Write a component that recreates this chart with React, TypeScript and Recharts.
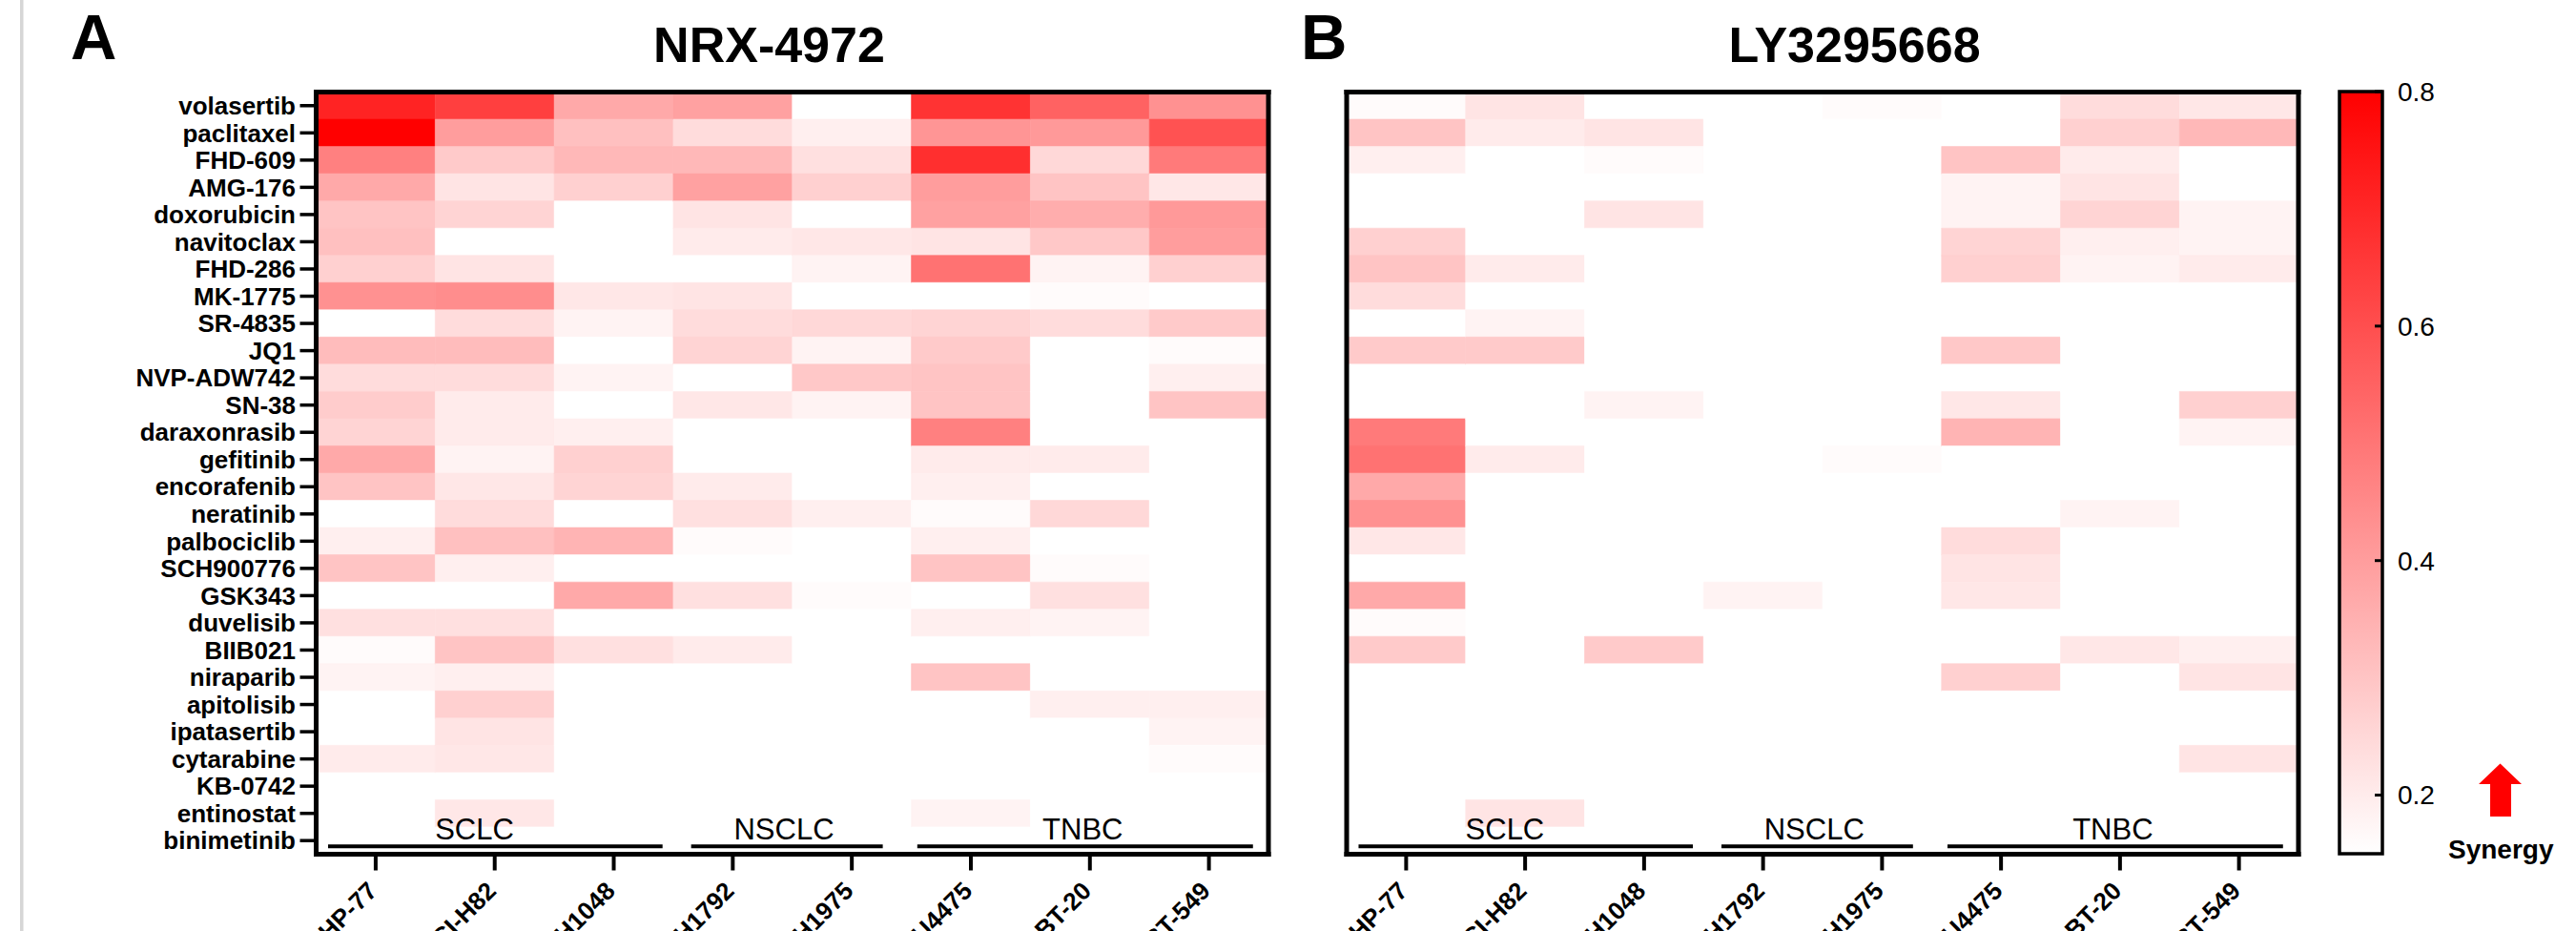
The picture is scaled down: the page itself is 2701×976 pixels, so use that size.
import React from "react";
import { BarChart, Bar, Cell, XAxis, YAxis, ReferenceLine } from "recharts";

const DRUGS = [
  "volasertib", "paclitaxel", "FHD-609", "AMG-176", "doxorubicin", "navitoclax",
  "FHD-286", "MK-1775", "SR-4835", "JQ1", "NVP-ADW742", "SN-38", "daraxonrasib",
  "gefitinib", "encorafenib", "neratinib", "palbociclib", "SCH900776", "GSK343",
  "duvelisib", "BIIB021", "niraparib", "apitolisib", "ipatasertib", "cytarabine",
  "KB-0742", "entinostat", "binimetinib"
];

const CELL_LINES = [
  "SHP-77", "NCI-H82", "NCI-H1048", "NCI-H1792", "NCI-H1975", "DU4475", "BT-20", "BT-549"
];

// synergy score per drug (rows) x cell line (columns); 0 = no synergy (white)
const NRX_4972: number[][] = [
  [0.71, 0.64, 0.37, 0.39, 0, 0.67, 0.55, 0.43],
  [0.8, 0.4, 0.31, 0.24, 0.19, 0.42, 0.41, 0.59],
  [0.475, 0.285, 0.33, 0.33, 0.23, 0.68, 0.25, 0.49],
  [0.37, 0.22, 0.27, 0.39, 0.27, 0.4, 0.3, 0.21],
  [0.3, 0.26, 0, 0.22, 0, 0.39, 0.36, 0.41],
  [0.31, 0, 0, 0.2, 0.21, 0.22, 0.29, 0.4],
  [0.27, 0.22, 0, 0, 0.18, 0.51, 0.18, 0.27],
  [0.43, 0.44, 0.21, 0.22, 0, 0, 0.16, 0],
  [0, 0.24, 0.18, 0.24, 0.25, 0.26, 0.24, 0.285],
  [0.32, 0.32, 0, 0.26, 0.18, 0.285, 0, 0.16],
  [0.24, 0.24, 0.18, 0, 0.29, 0.3, 0, 0.19],
  [0.28, 0.2, 0, 0.21, 0.18, 0.3, 0, 0.3],
  [0.26, 0.2, 0.19, 0, 0, 0.475, 0, 0],
  [0.37, 0.18, 0.27, 0, 0, 0.2, 0.2, 0],
  [0.3, 0.21, 0.26, 0.2, 0, 0.19, 0, 0],
  [0, 0.24, 0, 0.23, 0.19, 0.16, 0.25, 0],
  [0.19, 0.31, 0.34, 0.16, 0, 0.19, 0, 0],
  [0.3, 0.19, 0, 0, 0, 0.3, 0.16, 0],
  [0, 0, 0.37, 0.23, 0.16, 0, 0.23, 0],
  [0.23, 0.23, 0, 0, 0, 0.19, 0.18, 0],
  [0.16, 0.3, 0.23, 0.2, 0, 0, 0, 0],
  [0.18, 0.19, 0, 0, 0, 0.3, 0, 0],
  [0, 0.27, 0, 0, 0, 0, 0.19, 0.19],
  [0, 0.22, 0, 0, 0, 0, 0, 0.18],
  [0.2, 0.21, 0, 0, 0, 0, 0, 0.16],
  [0, 0, 0, 0, 0, 0, 0, 0],
  [0, 0.21, 0, 0, 0, 0.18, 0, 0],
  [0, 0, 0, 0, 0, 0, 0, 0]
];

const LY3295668: number[][] = [
  [0.16, 0.22, 0, 0, 0.16, 0, 0.24, 0.21],
  [0.3, 0.2, 0.22, 0, 0, 0, 0.27, 0.33],
  [0.19, 0, 0.16, 0, 0, 0.3, 0.2, 0],
  [0, 0, 0, 0, 0, 0.18, 0.22, 0],
  [0, 0, 0.22, 0, 0, 0.18, 0.26, 0.18],
  [0.27, 0, 0, 0, 0, 0.26, 0.19, 0.18],
  [0.3, 0.2, 0, 0, 0, 0.27, 0.18, 0.2],
  [0.24, 0, 0, 0, 0, 0, 0, 0],
  [0, 0.18, 0, 0, 0, 0, 0, 0],
  [0.285, 0.285, 0, 0, 0, 0.29, 0, 0],
  [0, 0, 0, 0, 0, 0, 0, 0],
  [0, 0, 0.18, 0, 0, 0.21, 0, 0.27],
  [0.49, 0, 0, 0, 0, 0.34, 0, 0.18],
  [0.51, 0.2, 0, 0, 0.16, 0, 0, 0],
  [0.37, 0, 0, 0, 0, 0, 0, 0],
  [0.43, 0, 0, 0, 0, 0, 0.18, 0],
  [0.21, 0, 0, 0, 0, 0.24, 0, 0],
  [0, 0, 0, 0, 0, 0.22, 0, 0],
  [0.37, 0, 0, 0.18, 0, 0.21, 0, 0],
  [0.16, 0, 0, 0, 0, 0, 0, 0],
  [0.285, 0, 0.285, 0, 0, 0, 0.21, 0.19],
  [0, 0, 0, 0, 0, 0.27, 0, 0.22],
  [0, 0, 0, 0, 0, 0, 0, 0],
  [0, 0, 0, 0, 0, 0, 0, 0],
  [0, 0, 0, 0, 0, 0, 0, 0.22],
  [0, 0, 0, 0, 0, 0, 0, 0],
  [0, 0.22, 0, 0, 0, 0, 0, 0],
  [0, 0, 0, 0, 0, 0, 0, 0]
];

// cancer type brackets, in column units
const GROUPS = [
  { name: "SCLC", from: 0.1, to: 2.91, labelAt: 1.33 },
  { name: "NSCLC", from: 3.15, to: 4.76, labelAt: 3.93 },
  { name: "TNBC", from: 5.05, to: 7.87, labelAt: 6.44 }
];

const SCALE_MIN = 0.15;
const SCALE_MAX = 0.8;
const SCALE_TICKS = [0.2, 0.4, 0.6, 0.8];

const FONT = "'Liberation Sans', Arial, sans-serif";
const BORDER = { stroke: "#000", strokeWidth: 5, strokeLinecap: "square" as const };
const COLUMN_TICKS = CELL_LINES.map((_, i) => i + 0.5);

function synergyColor(v: number) {
  const t = Math.max(0, Math.min(1, (v - SCALE_MIN) / (SCALE_MAX - SCALE_MIN)));
  const g = Math.round(255 * (1 - t));
  return `rgb(255,${g},${g})`;
}

function ColumnTick({ x, y, payload }: any) {
  const name = CELL_LINES[Math.floor(payload.value)];
  return (
    <text
      transform={`translate(${x + 3},${y + 23}) rotate(-45)`}
      textAnchor="end"
      fontFamily={FONT}
      fontSize={26}
      fontWeight={700}
      fill="#000"
    >
      {name}
    </text>
  );
}

function groupShape(group: (typeof GROUPS)[number]) {
  return (props: any) => {
    const { x1, x2, y1 } = props;
    const lx = x1 + ((group.labelAt - group.from) / (group.to - group.from)) * (x2 - x1);
    return (
      <g>
        <line x1={x1} x2={x2} y1={y1 + 6} y2={y1 + 6} stroke="#000" strokeWidth={4} />
        <text x={lx} y={y1 - 1} textAnchor="middle" fontFamily={FONT} fontSize={31} fill="#000">
          {group.name}
        </text>
      </g>
    );
  };
}

type HeatmapProps = {
  values: number[][];
  width: number;
  left: number;
  marginLeft: number;
  marginRight: number;
  showDrugs: boolean;
};

function Heatmap({ values, width, left, marginLeft, marginRight, showDrugs }: HeatmapProps) {
  const rows = DRUGS.map((drug, r) => ({ drug, cells: values[r] }));
  return (
    <div style={{ position: "absolute", left, top: 0 }}>
      <BarChart
        width={width}
        height={976}
        data={rows}
        layout="vertical"
        barCategoryGap={0}
        barGap={0}
        margin={{ top: 95.5, right: marginRight, bottom: 0, left: marginLeft }}
      >
        {CELL_LINES.map((line, c) => (
          <Bar key={line} dataKey={() => 1} stackId="cells" isAnimationActive={false}>
            {rows.map((row) => {
              const fill = synergyColor(row.cells[c]);
              return <Cell key={row.drug} fill={fill} stroke={fill} strokeWidth={0.6} />;
            })}
          </Bar>
        ))}
        <XAxis
          type="number"
          domain={[0, CELL_LINES.length]}
          ticks={COLUMN_TICKS}
          interval={0}
          height={80.5}
          tickSize={17}
          tickMargin={0}
          tickLine={{ stroke: "#000", strokeWidth: 4 }}
          axisLine={BORDER}
          tick={<ColumnTick />}
        />
        <XAxis
          xAxisId="top"
          orientation="top"
          type="number"
          domain={[0, CELL_LINES.length]}
          ticks={COLUMN_TICKS}
          height={1}
          tick={false}
          tickLine={false}
          axisLine={BORDER}
        />
        <YAxis
          type="category"
          dataKey="drug"
          interval={0}
          width={showDrugs ? 320 : 1}
          tickSize={17}
          tickMargin={4.5}
          tickLine={showDrugs ? { stroke: "#000", strokeWidth: 3.5 } : false}
          axisLine={BORDER}
          tick={showDrugs ? { fill: "#000", fontSize: 26, fontWeight: 700, fontFamily: FONT } : false}
        />
        <YAxis
          yAxisId="right"
          orientation="right"
          type="category"
          dataKey="drug"
          width={1}
          tick={false}
          tickLine={false}
          axisLine={BORDER}
        />
        {GROUPS.map((g) => (
          <ReferenceLine
            key={g.name}
            segment={[
              { x: g.from, y: DRUGS[DRUGS.length - 1] },
              { x: g.to, y: DRUGS[DRUGS.length - 1] }
            ]}
            shape={groupShape(g)}
          />
        ))}
      </BarChart>
    </div>
  );
}

function ColorScale() {
  const scale = [{ name: "Synergy", range: [SCALE_MIN, SCALE_MAX] }];
  return (
    <div style={{ position: "absolute", left: 2400, top: 0 }}>
      <BarChart width={301} height={976} data={scale} barCategoryGap={0} margin={{ top: 96, right: 202, bottom: 81, left: 52 }}>
        <defs>
          <linearGradient id="synergyGradient" x1="0" y1="1" x2="0" y2="0">
            <stop offset="0" stopColor="#ffffff" />
            <stop offset="1" stopColor="#ff0000" />
          </linearGradient>
        </defs>
        <Bar dataKey="range" fill="url(#synergyGradient)" stroke="#000" strokeWidth={3.5} isAnimationActive={false} />
        <XAxis dataKey="name" hide />
        <YAxis
          orientation="right"
          type="number"
          domain={[SCALE_MIN, SCALE_MAX]}
          ticks={SCALE_TICKS}
          interval={0}
          width={1}
          axisLine={false}
          tickSize={-8}
          tickMargin={24}
          tickLine={{ stroke: "#000", strokeWidth: 3 }}
          tick={{ fill: "#000", fontSize: 28, fontFamily: FONT }}
        />
        <YAxis
          yAxisId="inner"
          orientation="left"
          type="number"
          domain={[SCALE_MIN, SCALE_MAX]}
          ticks={SCALE_TICKS}
          interval={0}
          width={1}
          axisLine={false}
          tickSize={-8}
          tickLine={{ stroke: "#000", strokeWidth: 3 }}
          tick={() => <g />}
        />
      </BarChart>
    </div>
  );
}

export default function App() {
  return (
    <div style={{ position: "relative", width: 2701, height: 976, overflow: "hidden", background: "#fff" }}>
      <style>{"body{margin:0}"}</style>
      <Heatmap values={NRX_4972} width={1400} left={0} marginLeft={11.5} marginRight={69} showDrugs />
      <Heatmap values={LY3295668} width={1100} left={1350} marginLeft={61} marginRight={39} showDrugs={false} />
      <ColorScale />
      <svg width={2701} height={976} style={{ position: "absolute", left: 0, top: 0, pointerEvents: "none" }}>
        <rect x={21} y={0} width={3.5} height={976} fill="#d6d6d6" />
        <g fontFamily={FONT} fontWeight={700} fill="#000">
          <text x={74} y={62} fontSize={67}>A</text>
          <text x={1364} y={62} fontSize={67}>B</text>
          <text x={806.5} y={65} fontSize={52} textAnchor="middle">NRX-4972</text>
          <text x={1944.5} y={65} fontSize={52} textAnchor="middle">LY3295668</text>
          <text x={2567} y={900} fontSize={28}>Synergy</text>
        </g>
        <polygon
          points="2621.5,800.6 2644,822 2633,822 2633,856 2611,856 2611,822 2599,822"
          fill="#ff0000"
        />
      </svg>
    </div>
  );
}
